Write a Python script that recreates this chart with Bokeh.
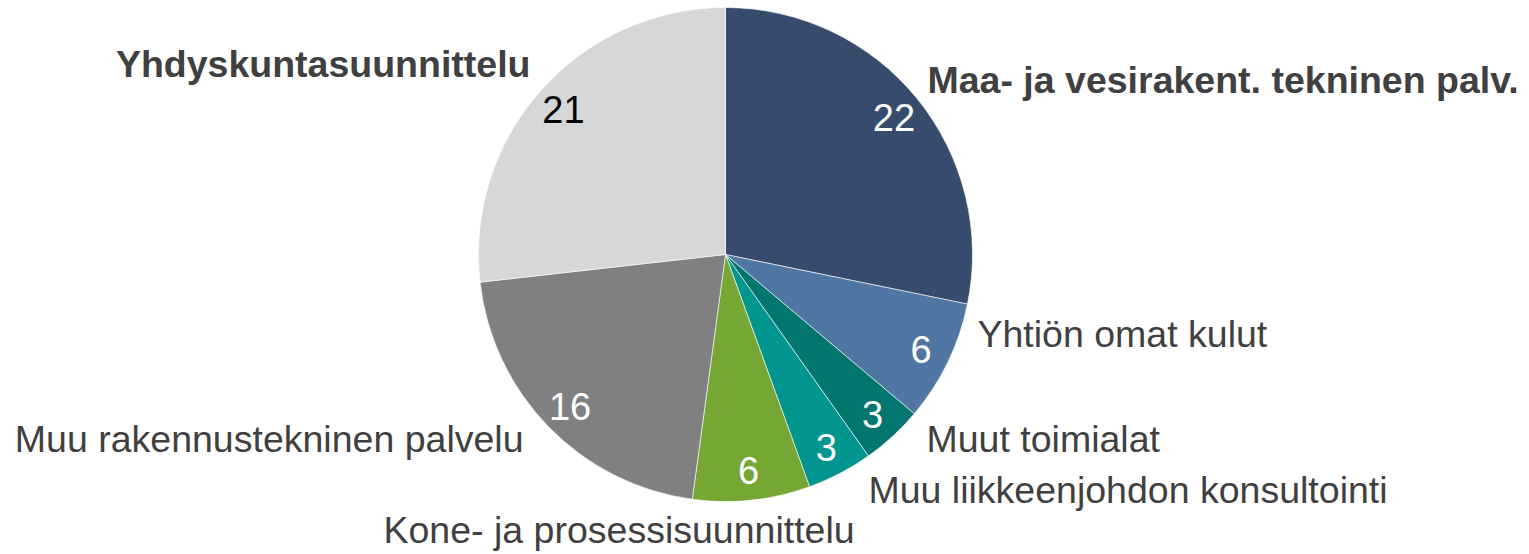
import math
from bokeh.plotting import figure
from bokeh.models import Range1d, ColumnDataSource
from bokeh.core.properties import value
from bokeh.embed import file_html
from bokeh.resources import INLINE

# ---- data (clockwise from 12 o'clock) ----
categories = [
    "Maa- ja vesirakent. tekninen palv.",
    "Yhtiön omat kulut",
    "Muut toimialat",
    "Muu liikkeenjohdon konsultointi",
    "Kone- ja prosessisuunnittelu",
    "Muu rakennustekninen palvelu",
    "Yhdyskuntasuunnittelu",
]
values = [21.7, 6.1, 3.1, 3.3, 5.9, 16.2, 20.6]
value_labels = ["22", "6", "3", "3", "6", "16", "21"]

# ---- styles ----
colors = ["#374B6C", "#5077A3", "#00766E", "#00968F", "#76A634", "#808080", "#D6D7D9"]
number_colors = ["white", "white", "white", "white", "white", "white", "black"]
bold_flags = [True, False, False, False, False, False, True]
TEXT = "#404040"
FONT = "Liberation Sans"

# ---- layout (page pixel coordinates) ----
W, H = 1529, 554
CX, CY, R = 725, 254, 247
LABEL_FRAC = 0.88
# outer label anchors: (x, baseline y, align)
label_anchor = [
    (927, 79, "left"),
    (977, 333, "left"),
    (926, 438, "left"),
    (868, 489, "left"),
    (383, 529, "left"),
    (523, 438, "right"),
    (530, 63, "right"),
]

p = figure(width=W, height=H, output_backend="svg", toolbar_location=None,
           x_range=Range1d(0, W), y_range=Range1d(H, 0),
           min_border=0, outline_line_color=None)
p.axis.visible = False
p.grid.visible = False
p.background_fill_color = "white"
p.border_fill_color = "white"

total = sum(values)
starts, ends, mids = [], [], []
cum = 0.0
for v in values:
    a0 = cum / total * 2 * math.pi
    cum += v
    a1 = cum / total * 2 * math.pi
    # clockwise-from-top angle -> bokeh (counterclockwise from +x on screen)
    starts.append(math.pi / 2 - a1)
    ends.append(math.pi / 2 - a0)
    mids.append((a0 + a1) / 2)

src = ColumnDataSource(dict(start=starts, end=ends, color=colors,
                            x=[CX] * len(values), y=[CY] * len(values)))
p.wedge(x="x", y="y", radius=R, start_angle="start", end_angle="end",
        fill_color="color", line_color="white", line_width=0.6, source=src)

# value labels inside slices
nx = [CX + LABEL_FRAC * R * math.sin(m) for m in mids]
ny = [CY - LABEL_FRAC * R * math.cos(m) for m in mids]
nsrc = ColumnDataSource(dict(x=nx, y=ny, t=value_labels, c=number_colors))
p.text(x="x", y="y", text="t", text_color="c", source=nsrc,
       text_font=value(FONT), text_font_size="38px",
       text_align="center", text_baseline="middle")

# category labels
for name, bold, (lx, ly, al) in zip(categories, bold_flags, label_anchor):
    p.text(x=[lx], y=[ly], text=[name], text_color=TEXT,
           text_font=value(FONT), text_font_size="37.5px",
           text_font_style="bold" if bold else "normal",
           text_align=al, text_baseline="alphabetic")

open("out.html", "w").write(file_html(p, INLINE))
